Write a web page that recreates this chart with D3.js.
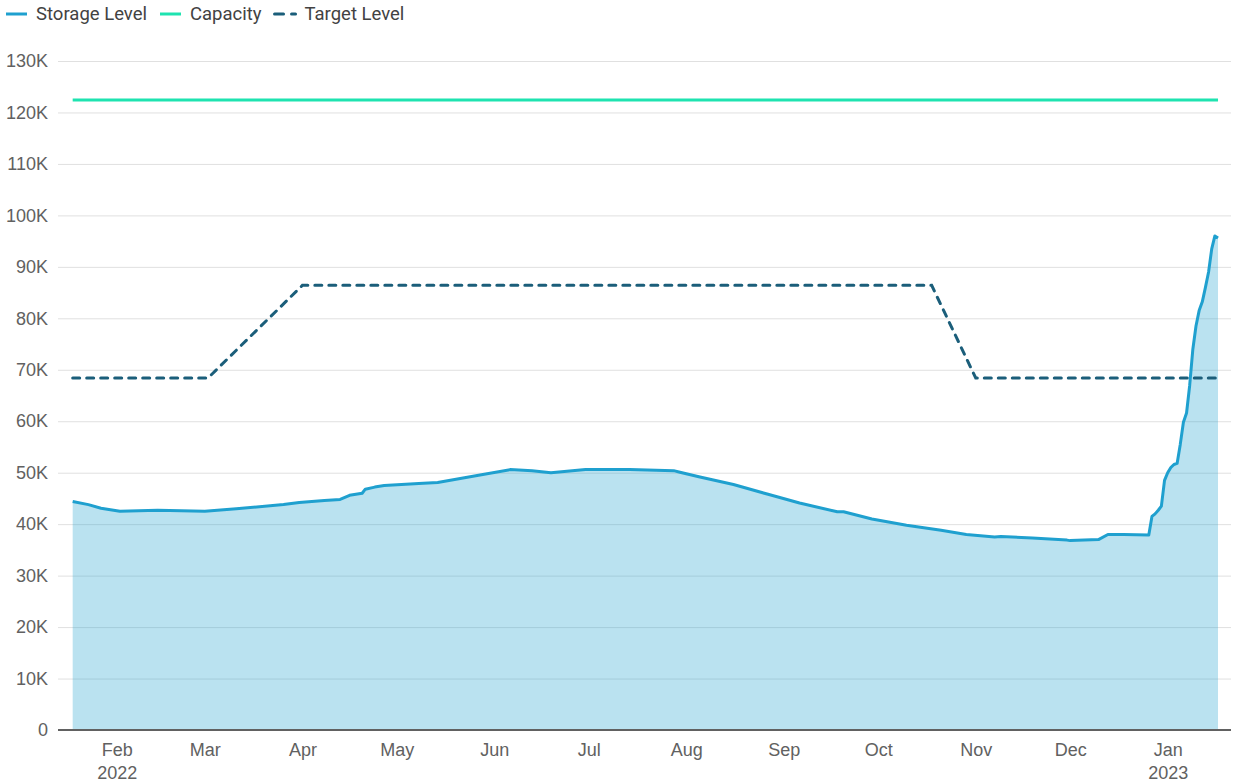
<!DOCTYPE html>
<html>
<head>
<meta charset="utf-8">
<script src="https://cdn.jsdelivr.net/npm/d3@7"></script>
<style>
  body { margin: 0; background: #fff; }
  svg { display: block; font-family: Roboto, "Noto Sans", sans-serif; }
</style>
</head>
<body>
<svg width="1233" height="784"></svg>
<script>
// Storage level (sparse points, straight segments between)
const storageDates = [
  "2022-01-18","2022-01-23","2022-01-27","2022-02-02","2022-02-14","2022-03-01","2022-03-11",
  "2022-03-26","2022-03-31","2022-04-08","2022-04-13","2022-04-16","2022-04-20","2022-04-21",
  "2022-04-24","2022-04-27","2022-05-08","2022-05-14","2022-05-27","2022-06-06","2022-06-13",
  "2022-06-19","2022-06-30","2022-07-14","2022-07-28","2022-07-30","2022-08-05","2022-08-16",
  "2022-08-27","2022-09-06","2022-09-18","2022-09-20","2022-09-29","2022-10-10","2022-10-21",
  "2022-10-29","2022-11-07","2022-11-09","2022-11-19","2022-11-30","2022-12-01","2022-12-10",
  "2022-12-13","2022-12-18","2022-12-26","2022-12-27","2022-12-28","2022-12-29","2022-12-30",
  "2022-12-31","2023-01-01","2023-01-02","2023-01-03","2023-01-04","2023-01-05","2023-01-06",
  "2023-01-07","2023-01-08","2023-01-09","2023-01-10","2023-01-11","2023-01-12","2023-01-13",
  "2023-01-14","2023-01-15","2023-01-16","2023-01-17"
];
const storageValues = [
  44400, 43800, 43100, 42500, 42700, 42500, 43000,
  43800, 44200, 44600, 44800, 45600, 46000, 46800,
  47200, 47500, 47900, 48100, 49500, 50600, 50400,
  50000, 50600, 50600, 50400, 50100, 49200, 47700,
  45800, 44100, 42400, 42400, 41000, 39800, 38800,
  38000, 37500, 37600, 37300, 36900, 36800, 37000,
  38000, 38000, 37900, 41500, 42000, 42700, 43500,
  48500, 50000, 51000, 51600, 51800, 55500, 59800,
  61600, 67000, 74000, 78500, 81500, 83200, 86000,
  89000, 93500, 96000, 95600
];

const capacityDates = ["2022-01-18", "2023-01-17"];
const capacityValues = [122400, 122400];

const targetDates = ["2022-01-18", "2022-03-02", "2022-04-01", "2022-10-18", "2022-11-01", "2023-01-17"];
const targetValues = [68400, 68400, 86400, 86400, 68400, 68400];

const yTicks = [0, 10000, 20000, 30000, 40000, 50000, 60000, 70000, 80000, 90000, 100000, 110000, 120000, 130000];
const seriesNames = ["Storage Level", "Capacity", "Target Level"];
const seriesColors = ["#1fa0cf", "#1ee3b0", "#1b5e7a"];

const parse = d3.timeParse("%Y-%m-%d");
const zip = (ds, vs) => ds.map((d, i) => ({date: parse(d), value: vs[i]}));
const storage = zip(storageDates, storageValues);
const capacity = zip(capacityDates, capacityValues);
const target = zip(targetDates, targetValues);

const plotLeft = 58, plotRight = 1231, plotTop = 61, plotBottom = 730;

const x = d3.scaleTime()
  .domain([new Date(2022, 0, 13, 8), new Date(2023, 0, 21, 3)])
  .range([plotLeft, plotRight]);
const y = d3.scaleLinear().domain([0, 130000]).range([plotBottom, plotTop]);

const svg = d3.select("svg");

// gridlines + y labels
const yAxis = svg.append("g")
  .attr("transform", `translate(${plotLeft},0)`)
  .call(d3.axisLeft(y).tickValues(yTicks).tickSize(-(plotRight - plotLeft)).tickPadding(10)
    .tickFormat(d => d === 0 ? "0" : d / 1000 + "K"));
yAxis.select(".domain").remove();
yAxis.selectAll(".tick line").attr("stroke", "#e0e0e0").attr("stroke-width", 1);
yAxis.selectAll(".tick text").attr("fill", "#616161").attr("font-size", 18).attr("x", -10);

// storage area
const area = d3.area()
  .x(d => x(d.date)).y0(y(0)).y1(d => y(d.value));
svg.append("path").datum(storage)
  .attr("d", area)
  .attr("fill", seriesColors[0])
  .attr("fill-opacity", 0.31);

const line = d3.line().x(d => x(d.date)).y(d => y(d.value));

svg.append("path").datum(capacity)
  .attr("d", line).attr("fill", "none")
  .attr("stroke", seriesColors[1]).attr("stroke-width", 3);

svg.append("path").datum(target)
  .attr("d", line).attr("fill", "none")
  .attr("stroke", seriesColors[2]).attr("stroke-width", 3)
  .attr("stroke-linecap", "round")
  .attr("stroke-dasharray", "7,7");

svg.append("path").datum(storage)
  .attr("d", line).attr("fill", "none")
  .attr("stroke", seriesColors[0]).attr("stroke-width", 3)
  .attr("stroke-linejoin", "round");

// x axis
const xAxis = svg.append("g")
  .attr("transform", `translate(0,${plotBottom})`)
  .call(d3.axisBottom(x)
    .ticks(d3.timeMonth.every(1))
    .tickSize(0).tickPadding(13)
    .tickFormat(d3.timeFormat("%b")));
xAxis.select(".domain").attr("stroke", "#616161").attr("stroke-width", 2)
  .attr("d", `M${plotLeft},0H${plotRight}`);
xAxis.selectAll(".tick text").attr("fill", "#616161").attr("font-size", 18)
  .each(function(d) {
    if (d.getMonth() === 1 && d.getFullYear() === 2022 || d.getMonth() === 0) {
      d3.select(this).append("tspan")
        .attr("x", 0).attr("dy", "1.3em").text(d.getFullYear());
    }
  });

// legend
const legend = svg.append("g").attr("transform", "translate(5,14)");
let lx = 0;
seriesNames.forEach((name, i) => {
  const g = legend.append("g").attr("transform", `translate(${lx},0)`);
  g.append("line").attr("x1", 1).attr("x2", 22).attr("y1", 0).attr("y2", 0)
    .attr("stroke", seriesColors[i]).attr("stroke-width", 3)
    .attr("stroke-linecap", i === 2 ? "round" : "butt")
    .attr("stroke-dasharray", i === 2 ? "9,8" : null);
  const t = g.append("text").attr("x", 31).attr("dy", "0.35em")
    .attr("font-size", 18.5).attr("fill", "#424242").text(name);
  lx += 31 + t.node().getComputedTextLength() + 12;
});
</script>
</body>
</html>
